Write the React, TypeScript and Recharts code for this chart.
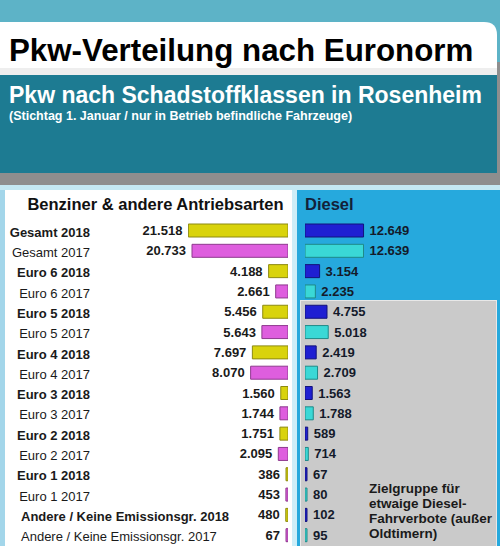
import { BarChart, Bar, XAxis, YAxis, Cell, LabelList } from "recharts";

const categories = [
  "Gesamt 2018",
  "Gesamt 2017",
  "Euro 6 2018",
  "Euro 6 2017",
  "Euro 5 2018",
  "Euro 5 2017",
  "Euro 4 2018",
  "Euro 4 2017",
  "Euro 3 2018",
  "Euro 3 2017",
  "Euro 2 2018",
  "Euro 2 2017",
  "Euro 1 2018",
  "Euro 1 2017",
  "Andere / Keine Emissionsgr. 2018",
  "Andere / Keine Emissionsgr. 2017",
];

const benzinValues = [21518, 20733, 4188, 2661, 5456, 5643, 7697, 8070, 1560, 1744, 1751, 2095, 386, 453, 480, 67];
const dieselValues = [12649, 12639, 3154, 2235, 4755, 5018, 2419, 2709, 1563, 1788, 589, 714, 67, 80, 102, 95];

// 2018 / 2017
const benzinFill = ["#d9d30c", "#de5ede"];
const benzinStroke = ["#8c8a12", "#8e3a8e"];
const dieselFill = ["#1f1fd2", "#3ad8d6"];
const dieselStroke = ["#12127a", "#1f8a88"];

const MAX = 21600;
const FONT = "'Liberation Sans', Arial, sans-serif";

const data = categories.map((name, i) => ({
  name,
  benzin: benzinValues[i],
  diesel: dieselValues[i],
}));

function fmt(v: number) {
  return String(v).replace(/\B(?=(\d{3})+(?!\d))/g, ".");
}

function CategoryTick(props: any) {
  const { y, payload } = props;
  const label = String(payload.value);
  const bold = label.endsWith("2018");
  const long = label.length > 14;
  return (
    <text
      x={long ? 21 : 90}
      y={y}
      dy={6.5}
      textAnchor={long ? "start" : "end"}
      fontSize={13}
      fontWeight={bold ? 700 : 400}
      fill="#1a1a1a"
      fontFamily={FONT}
    >
      {label}
    </text>
  );
}

function LeftValue(props: any) {
  const { x, y, width, height, value } = props;
  const left = Math.min(Number(x), Number(x) + Number(width));
  return (
    <text
      x={left - 6}
      y={Number(y) + Number(height) / 2 + 4.5}
      textAnchor="end"
      fontSize={13}
      fontWeight={700}
      fill="#1a1a1a"
      fontFamily={FONT}
    >
      {fmt(Number(value))}
    </text>
  );
}

function RightValue(props: any) {
  const { x, y, width, height, value } = props;
  const right = Math.max(Number(x), Number(x) + Number(width));
  return (
    <text
      x={right + 6}
      y={Number(y) + Number(height) / 2 + 4.5}
      textAnchor="start"
      fontSize={13}
      fontWeight={700}
      fill="#141a2a"
      fontFamily={FONT}
    >
      {fmt(Number(value))}
    </text>
  );
}

export default function App() {
  return (
    <div
      style={{
        position: "absolute",
        left: 0,
        top: 0,
        width: 500,
        height: 546,
        overflow: "hidden",
        background: "#5db3c7",
        fontFamily: FONT,
      }}
    >
      <svg width={500} height={546} style={{ position: "absolute", left: 0, top: 0 }}>
        <rect x={497} y={62} width={3} height={125} fill="#8e8e8e" />
        <path d="M0 22 H484 Q497 22 497 35 V75 H0 Z" fill="#ffffff" />
        <rect x={0} y={68} width={497} height={7} fill="#eeeeee" />
        <rect x={0} y={75} width={497} height={98} fill="#1d7b92" />
        <rect x={0} y={173} width={500} height={12} fill="#8e8e8e" />
        <rect x={0} y={185} width={500} height={5} fill="#c4e8f3" />
        <rect x={0} y={190} width={5} height={356} fill="#a3d6ea" />
        <rect x={5} y={190} width={287} height={356} fill="#ffffff" />
        <rect x={292} y={190} width={5} height={356} fill="#cdeef8" />
        <rect x={297} y={190} width={203} height={356} fill="#26a9dd" />
        <rect x={300.5} y={300.5} width={196} height={250} fill="#cacaca" stroke="#e8e8e8" strokeWidth={1} />

        <text x={9} y={61} fontSize={31.3} fontWeight={700} fill="#000000" fontFamily={FONT}>
          Pkw-Verteilung nach Euronorm
        </text>
        <text x={9} y={103} fontSize={23} fontWeight={700} fill="#ffffff" fontFamily={FONT}>
          Pkw nach Schadstoffklassen in Rosenheim
        </text>
        <text x={9} y={120} fontSize={12.5} fontWeight={700} fill="#ffffff" fontFamily={FONT}>
          (Stichtag 1. Januar / nur in Betrieb befindliche Fahrzeuge)
        </text>

        <text x={155.5} y={210} textAnchor="middle" fontSize={16.5} fontWeight={700} fill="#111111" fontFamily={FONT}>
          Benziner &amp; andere Antriebsarten
        </text>
        <text x={305} y={210} fontSize={16.5} fontWeight={700} fill="#13213a" fontFamily={FONT}>
          Diesel
        </text>

        <text x={369} fontSize={13.5} fontWeight={700} fill="#1a1a1a" fontFamily={FONT}>
          <tspan x={369} y={493}>Zielgruppe für</tspan>
          <tspan x={369} y={508}>etwaige Diesel-</tspan>
          <tspan x={369} y={523}>Fahrverbote (außer</tspan>
          <tspan x={369} y={538}>Oldtimern)</tspan>
        </text>
      </svg>

      <div style={{ position: "absolute", left: 0, top: 220 }}>
        <BarChart
          width={292}
          height={325}
          data={data}
          layout="vertical"
          margin={{ top: 0, right: 4, bottom: 0, left: 0 }}
        >
          <XAxis type="number" hide reversed domain={[0, MAX]} allowDataOverflow />
          <YAxis
            type="category"
            dataKey="name"
            width={188}
            axisLine={false}
            tickLine={false}
            interval={0}
            tick={<CategoryTick />}
          />
          <Bar dataKey="benzin" barSize={13} minPointSize={2} isAnimationActive={false}>
            {data.map((_, i) => (
              <Cell key={i} fill={benzinFill[i % 2]} stroke={benzinStroke[i % 2]} strokeWidth={1} />
            ))}
            <LabelList dataKey="benzin" content={<LeftValue />} />
          </Bar>
        </BarChart>
      </div>

      <div style={{ position: "absolute", left: 300, top: 220 }}>
        <BarChart
          width={200}
          height={325}
          data={data}
          layout="vertical"
          margin={{ top: 0, right: 95, bottom: 0, left: 5 }}
        >
          <XAxis type="number" hide domain={[0, MAX]} allowDataOverflow />
          <YAxis type="category" dataKey="name" hide />
          <Bar dataKey="diesel" barSize={13} minPointSize={2} isAnimationActive={false}>
            {data.map((_, i) => (
              <Cell key={i} fill={dieselFill[i % 2]} stroke={dieselStroke[i % 2]} strokeWidth={1} />
            ))}
            <LabelList dataKey="diesel" content={<RightValue />} />
          </Bar>
        </BarChart>
      </div>
    </div>
  );
}
